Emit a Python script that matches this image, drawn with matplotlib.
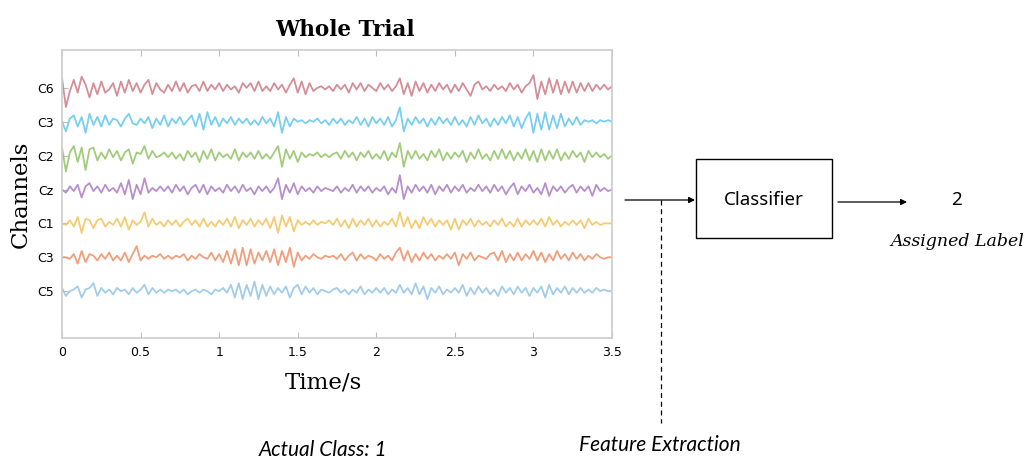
import numpy as np
import matplotlib.pyplot as plt

# channel names, top to bottom
channels = ['C6', 'C3', 'C2', 'Cz', 'C1', 'C3', 'C5']
colors = ['#cc7a86', '#62c6ee', '#92c264', '#ab7cc4', '#f4c25a', '#ee8e66', '#92c4e6']

# time axis: one reading every 0.025 s
step = 0.025

# amplitudes (arbitrary units, up is positive)
c6 = [6, -12, -2, 5, -3, 7, 2, -6, 3, -4,
      4, -3, -1, 3, -5, 4, -3, 5, -2, 3,
      -3, 2, 5, -4, 3, -1, -3, 2, -2, 4,
      -2, 3, -3, 1, 2, -2, 4, -2, 2, -1,
      3, -2, 2, -1, 1, -3, 3, 0, 3, -2,
      4, -2, 1, -2, 3, -1, 2, -3, 2, 6,
      -3, 4, -4, 3, -2, 0, 1, -1, 1, -2,
      2, -1, 2, -3, 3, -1, 3, -2, 2, 0,
      -2, 3, -1, 2, -2, 1, 6, -4, 3, -5,
      4, -2, 3, -3, 2, -2, 3, -1, 2, -3,
      2, -2, 3, -1, -5, 2, 4, -1, 1, -2,
      2, -1, 1, -2, 3, -1, 2, -3, 1, 3,
      8, -7, 4, -4, 6, -3, 5, -4, 4, -3,
      4, -3, 3, -2, 3, -2, 2, -1, 2, -1,
      1]
c3_top = [0, -6, 2, 4, -3, 3, -7, 5, -2, 3,
          -3, 4, -2, 2, 1, -3, 2, 5, -1, -2,
          2, -1, 3, -4, 2, -2, 4, -3, 2, -1,
          3, -2, 1, 4, -3, 5, -5, 6, -2, 3,
          -3, 2, -1, 3, -2, 2, -1, 2, -2, 1,
          -2, 3, -1, 2, -3, 6, -7, 3, -3, 2,
          0, 1, -1, 1, 0, 2, -1, 1, -2, 2,
          -1, 2, -2, 1, -1, 3, -2, 2, -3, 3,
          -1, 2, -2, 3, -3, 1, 9, -6, 2, -2,
          3, -1, 2, -3, 2, -2, 3, -1, 2, -2,
          3, -2, 1, -3, 3, -2, 4, -1, 2, -3,
          2, -2, 3, -1, 4, -3, 3, -4, 2, 6,
          -7, 5, -5, 6, -5, 4, -4, 5, -3, 2,
          -2, 3, -2, 1, 0, 1, -1, 1, 0, 1,
          0]
c2 = [5, -10, 2, 6, -4, 5, -9, 4, 5, -3,
      2, -2, 4, -1, 3, -3, 2, 4, -5, 2,
      1, 6, -2, 3, -1, 0, 2, -1, 2, -2,
      1, -3, 3, -1, 2, -4, 3, -2, 4, -3,
      2, -1, 1, -2, 4, -3, 2, -1, 2, -2,
      3, -2, 1, -2, 2, 6, -7, 4, -2, 3,
      -4, 2, -1, 1, 0, 2, -1, 1, -1, 1,
      2, -2, 3, -1, 2, -3, 2, -1, 3, -2,
      1, -2, 3, -3, 2, -1, 8, -7, 3, -2,
      3, -2, 1, -3, 3, -1, 4, -3, 2, -2,
      2, -1, 3, -4, 2, -2, 4, -2, 1, -3,
      3, -2, 4, -2, 3, -3, 2, -2, 4, -3,
      3, -4, 4, -3, 3, -2, 4, -3, 2, -2,
      3, -1, 2, -4, 3, -1, 2, -1, 1, -2,
      0]
cz = [0, -2, 2, -1, 3, -5, 2, 4, -1, 2,
      -2, 3, -1, 1, -2, 4, -3, 6, -6, 3,
      -3, 7, -2, 1, -1, 2, -1, 2, -2, 3,
      -1, 2, -3, 1, 3, -2, 3, -3, 2, -1,
      1, -2, 3, -1, 2, -2, 3, -1, 1, -3,
      2, -1, 2, -2, 1, 7, -6, 3, -2, 4,
      -3, 2, -1, 1, -2, 2, -1, 1, 0, -1,
      2, -2, 1, -1, 3, -2, 2, -1, 2, -2,
      1, -1, 2, -3, 1, -2, 9, -6, 2, -2,
      3, -1, 2, -2, 3, -3, 2, -1, 3, -2,
      2, -1, 3, -2, 1, -1, 3, -1, 2, -2,
      3, -1, 2, -3, 1, 4, -3, 2, -1, 3,
      -2, 1, -3, 4, -4, 2, -1, 2, -2, 1,
      3, -2, 2, -1, 2, -4, 3, -1, 1, -1,
      0]
c1 = [0, -1, 2, -2, 4, -6, 3, 2, -3, 2,
      3, -2, 1, -1, 3, -2, 4, -4, 2, -1,
      1, 7, -2, 3, -1, 1, -2, 2, -1, 2,
      -2, 1, 3, -1, 2, -2, 3, -2, 1, -2,
      2, -1, 3, -2, 4, -3, 2, -1, 3, -2,
      2, -1, 3, -3, 4, -6, 5, -2, 4, -5,
      2, -1, 1, -1, 2, -1, 1, 0, 2, -1,
      3, -2, 2, -3, 3, -2, 2, -1, 3, -2,
      2, -2, 1, -1, 3, -2, 7, -2, 4, -3,
      2, -3, 4, -1, 3, -2, 2, -1, 2, -4,
      3, -4, 2, -1, 3, -2, 2, -1, 1, -2,
      2, -1, 3, -2, 1, -2, 3, -2, 2, -1,
      2, -1, 3, -2, 4, -1, 2, -2, 1, -1,
      2, -1, 2, -3, 3, -1, 1, -1, 0, 0,
      0]
c3_low = [0, 0, -1, 2, -4, 4, -3, 2, 1, -2,
          2, -1, 3, -2, 1, -2, 3, -3, 2, 7,
          -2, 1, -1, 1, 0, 2, -1, 1, -1, 1,
          0, 2, -2, 1, -1, 2, 0, -1, 3, -2,
          2, -3, 4, -4, 5, -5, 6, -5, 5, -4,
          3, -2, 4, -3, 5, -5, 4, -3, 6, -6,
          3, -2, 1, -1, 2, 0, -1, 1, 0, 1,
          -1, 2, -2, 1, 3, -2, 2, -1, 1, 0,
          -2, 2, -1, 1, -2, 3, 6, -2, 4, -3,
          2, -2, 3, -1, 2, -2, 1, -1, 2, -1,
          3, -5, 2, -1, 3, -2, 1, 0, -1, 2,
          3, -2, 4, -3, 2, -2, 3, -2, 2, -1,
          4, -2, 3, -3, 2, -2, 4, -1, 2, -2,
          3, -1, 2, -2, 1, -1, 2, 0, -1, 0,
          0]
c5 = [2, -3, 0, 1, 3, -4, 1, 2, 5, -3,
      2, -1, 1, -2, 2, 0, 1, -2, 2, -1,
      1, 4, -2, 2, -1, 1, -1, 1, 0, 1,
      -1, 1, -2, 0, 1, -1, 1, 0, -2, 1,
      0, 2, -1, 4, -4, 5, -5, 4, -3, 6,
      -5, 4, -3, 3, -2, 2, -1, 3, -4, 2,
      4, -2, 3, -1, 2, -2, 1, 0, -1, 1,
      2, -1, 1, -2, 1, -1, 3, -2, 1, -1,
      2, -1, 2, -2, 1, -1, 4, -1, 2, -2,
      5, -2, 3, -5, 2, -1, 3, -2, 1, -1,
      2, -1, 4, -3, 2, -2, 3, -1, 2, -2,
      1, -3, 3, -1, 2, -2, 3, -1, 2, -3,
      2, -1, 3, -4, 4, -2, 2, -1, 3, -2,
      2, -1, 2, -1, 1, -1, 2, 0, 1, 0,
      0]
signals = [c6, c3_top, c2, cz, c1, c3_low, c5]
xticks = [0, 0.5, 1, 1.5, 2, 2.5, 3, 3.5]

W, H = 1025, 459
fig = plt.figure(figsize=(W / 100, H / 100), dpi=100)

# signal panel
ax = fig.add_axes([62 / W, (H - 338) / H, 550 / W, 288 / H])
gap = 34
gain = 1.6
offsets = [gap * (len(channels) - 1 - i) for i in range(len(channels))]
for sig, off, col in zip(signals, offsets, colors):
    t = np.arange(len(sig)) * step
    ax.plot(t, gain * np.array(sig) + off, color=col, lw=1.3, alpha=0.85,
            solid_joinstyle='round')

ax.set_xlim(0, 3.5)
ax.set_ylim(-47, offsets[0] + 38)
ax.set_xticks(xticks)
ax.set_xticklabels([str(x) for x in xticks], fontsize=9, family='DejaVu Sans')
ax.set_yticks(offsets)
ax.set_yticklabels(channels, fontsize=9, family='DejaVu Sans')
ax.tick_params(direction='in', length=4, color='#bbbbbb', top=True, pad=6)
for s in ax.spines.values():
    s.set_color('#cccccc')
    s.set_linewidth(1.2)
ax.set_title('Whole Trial', family='DejaVu Serif', fontweight='bold',
             fontsize=15.5, pad=10, x=0.515)
ax.set_xlabel('Time/s', family='DejaVu Serif', fontsize=16.5, labelpad=6)
ax.xaxis.set_label_coords(0.475, -0.118)
ax.set_ylabel('Channels', family='DejaVu Serif', fontsize=16.5, labelpad=4)

# diagram overlay in pixel coordinates
ov = fig.add_axes([0, 0, 1, 1])
ov.set_xlim(0, W)
ov.set_ylim(H, 0)
ov.axis('off')

arrow = dict(arrowstyle='-|>', color='black', lw=0.9, mutation_scale=9,
             shrinkA=0, shrinkB=0)
ov.annotate('', xy=(695, 200), xytext=(625, 200), arrowprops=arrow)
ov.annotate('', xy=(907, 202), xytext=(838, 202), arrowprops=arrow)
ov.plot([661, 661], [200, 423], color='black', lw=0.9, ls=(0, (4, 3)))
ov.add_patch(plt.Rectangle((696, 159), 136, 79, fill=False, ec='black', lw=1))

ov.text(764, 200, 'Classifier', ha='center', va='center', fontsize=13.5,
        family='Noto Sans')
ov.text(957, 200, '2', ha='center', va='center', fontsize=13.5, family='Noto Sans')
ov.text(957, 241, 'Assigned Label', ha='center', va='center', fontsize=12.5,
        family='DejaVu Serif', style='italic')
ov.text(660, 445, 'Feature Extraction', ha='center', va='center', fontsize=15,
        family='Lato', style='italic')
ov.text(323, 450, 'Actual Class: 1', ha='center', va='center', fontsize=15,
        family='Lato', style='italic')

fig.savefig('out.png', dpi=100)
